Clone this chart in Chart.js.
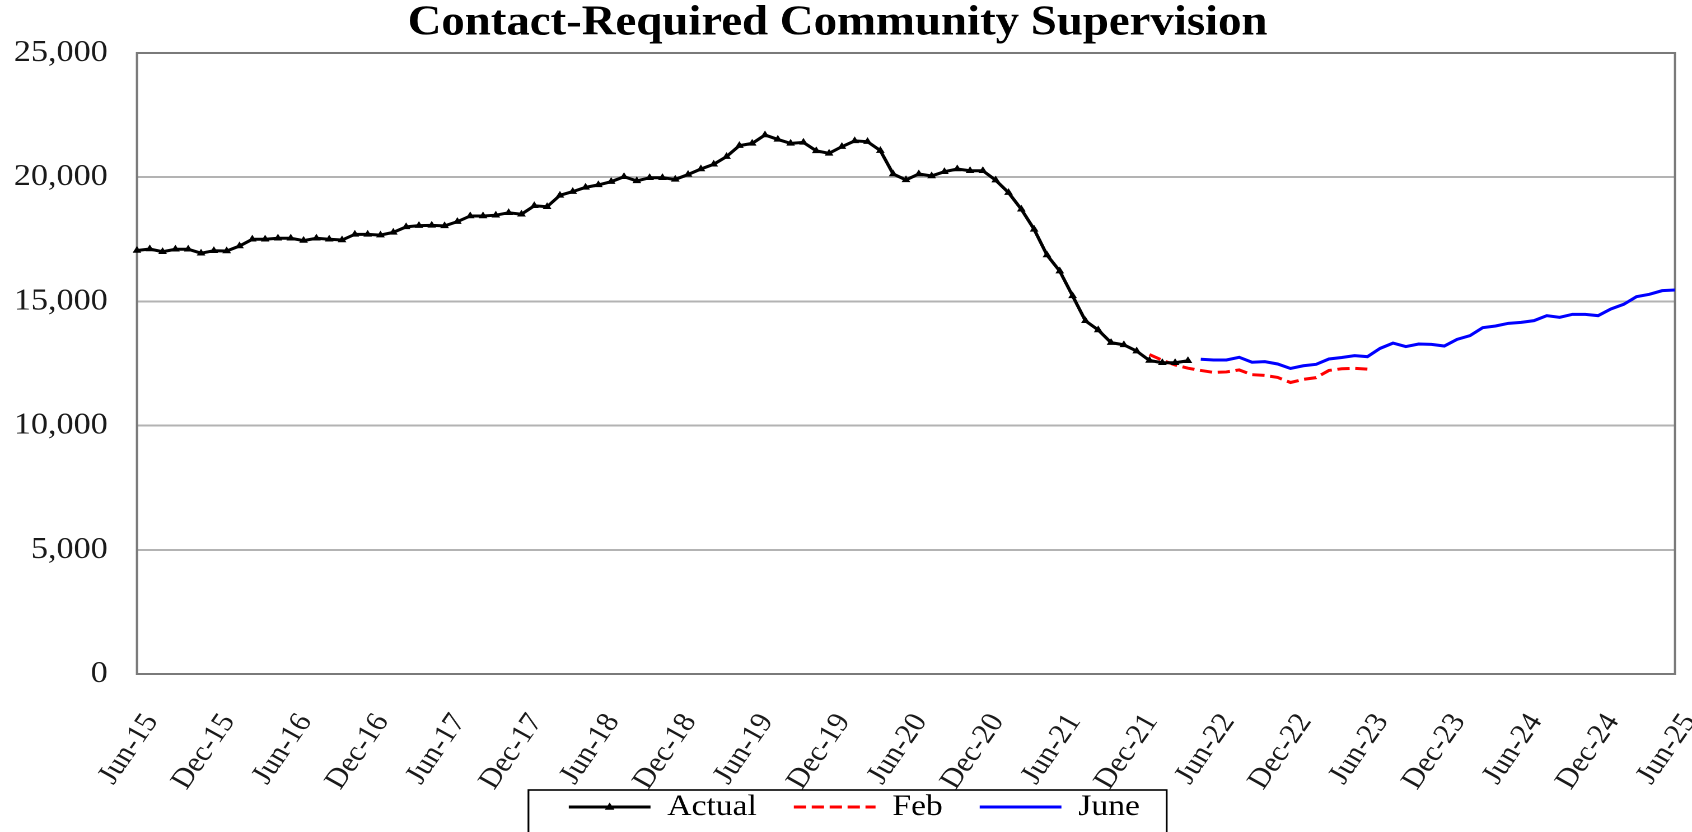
<!DOCTYPE html>
<html>
<head>
<meta charset="utf-8">
<script src="https://cdn.jsdelivr.net/npm/chart.js@4.4.1/dist/chart.umd.min.js"></script>
<style>
  html, body { margin: 0; padding: 0; background: #ffffff; overflow: hidden; }
  #c { display: block; width: 1692px; height: 832px; }
</style>
</head>
<body>
<canvas id="c" width="1511" height="832" style="width:1692px;height:832px;display:block"></canvas>
<script>
// ---------- DATA ----------
const monthNames = ['Jan','Feb','Mar','Apr','May','Jun','Jul','Aug','Sep','Oct','Nov','Dec'];
const categories = [];
for (let i = 0; i < 121; i++) {
  const m = (5 + i) % 12;
  const y = 15 + Math.floor((5 + i) / 12);
  categories.push(monthNames[m] + '-' + y);
}

const xTickLabels = ['Jun-15','Dec-15','Jun-16','Dec-16','Jun-17','Dec-17','Jun-18','Dec-18',
  'Jun-19','Dec-19','Jun-20','Dec-20','Jun-21','Dec-21','Jun-22','Dec-22','Jun-23','Dec-23',
  'Jun-24','Dec-24','Jun-25'];

const yTickValues = [0, 5000, 10000, 15000, 20000, 25000];

// Actual: Jun-15 .. Apr-22
const actualStart = 'Jun-15';
const actualValues = [
  17050, 17110, 17000, 17100, 17100, 16940, 17040, 17030, 17230, 17500,
  17500, 17540, 17540, 17450, 17540, 17500, 17470, 17700, 17700, 17670,
  17780, 18000, 18050, 18060, 18040, 18210, 18440, 18440, 18470, 18570,
  18510, 18850, 18810, 19270, 19420, 19590, 19690, 19820, 20020, 19850,
  19980, 19980, 19910, 20110, 20330, 20520, 20830, 21270, 21360, 21700,
  21520, 21360, 21400, 21060, 20960, 21230, 21460, 21430, 21070, 20130,
  19890, 20130, 20050, 20220, 20330, 20260, 20260, 19880, 19380, 18710,
  17900, 16870, 16220, 15220, 14220, 13850, 13340, 13250, 13000, 12620,
  12530, 12530, 12610
];

// Feb forecast: Jan-22 .. Jun-23
const febStart = 'Jan-22';
const febValues = [
  12860, 12630, 12440, 12310, 12220, 12140, 12160, 12240, 12050, 12020,
  11940, 11735, 11860, 11930, 12220, 12290, 12306, 12275
];

// June forecast: May-22 .. Jun-25
const juneStart = 'May-22';
const juneValues = [
  12670, 12640, 12640, 12750, 12550, 12575, 12480, 12300, 12410, 12467,
  12681, 12740, 12815, 12775, 13110, 13320, 13180, 13285, 13270, 13204,
  13473, 13620, 13943, 14010, 14117, 14157, 14224, 14425, 14358, 14479,
  14479, 14425, 14694, 14882, 15191, 15285, 15432, 15459
];

function placeSeries(startLabel, values) {
  const out = new Array(categories.length).fill(null);
  const s = categories.indexOf(startLabel);
  values.forEach((v, i) => { out[s + i] = v; });
  return out;
}

// ---------- STYLE ----------
const SERIF = "'Liberation Serif', 'Times New Roman', serif";
const legendSampleOffset = 30;   // blank space before each legend sample
const legendSampleLen = 73;

const seriesStyles = [
  { type: 'actual', color: '#000000', dash: [], width: 3 },
  { type: 'feb', color: '#ff0000', dash: [11, 5], width: 3 },
  { type: 'june', color: '#0000ff', dash: [], width: 3 }
];

const framePlugin = {
  id: 'frame',
  beforeDatasetsDraw(chart) {
    const { left, top, right, bottom } = chart.chartArea;
    const ctx = chart.ctx;
    ctx.save();
    ctx.strokeStyle = '#7a7a7a';
    ctx.lineWidth = 2;
    ctx.strokeRect(left, top, right - left, bottom - top);
    ctx.restore();
  },
  afterDraw(chart) {
    const lg = chart.legend;
    if (!lg || !lg.legendHitBoxes || !lg.legendHitBoxes.length) return;
    const ctx = chart.ctx;
    const hbs = lg.legendHitBoxes;
    ctx.save();
    hbs.forEach((hb, i) => {
      const st = seriesStyles[i];
      const cy = hb.top + hb.height / 2;
      const x0 = hb.left + legendSampleOffset;
      const x1 = x0 + legendSampleLen;
      ctx.beginPath();
      ctx.setLineDash(st.dash);
      ctx.lineWidth = st.width;
      ctx.strokeStyle = st.color;
      ctx.moveTo(x0, cy);
      ctx.lineTo(x1, cy);
      ctx.stroke();
      ctx.setLineDash([]);
      if (st.type === 'actual') {
        const cx = (x0 + x1) / 2, r = 4.5;
        ctx.beginPath();
        ctx.fillStyle = '#000';
        ctx.moveTo(cx, cy - r);
        ctx.lineTo(cx + r * 0.95, cy + r * 0.6);
        ctx.lineTo(cx - r * 0.95, cy + r * 0.6);
        ctx.closePath();
        ctx.fill();
      }
    });
    // legend frame
    const first = hbs[0], last = hbs[hbs.length - 1];
    const bx0 = first.left + legendSampleOffset - 36;
    const bx1 = last.left + last.width + 24;
    const by0 = lg.top + 1;
    ctx.strokeStyle = '#000';
    ctx.lineWidth = 1.6;
    ctx.strokeRect(bx0, by0, bx1 - bx0, chart.height + 20 - by0);
    ctx.restore();
  }
};

const ctx = document.getElementById('c').getContext('2d');
new Chart(ctx, {
  type: 'line',
  data: {
    labels: categories,
    datasets: [
      {
        label: 'Actual',
        data: placeSeries(actualStart, actualValues),
        borderColor: '#000000',
        backgroundColor: '#000000',
        borderWidth: 3,
        pointStyle: 'triangle',
        pointRadius: 4.5,
        pointBorderWidth: 0,
        pointBackgroundColor: '#000000',
        tension: 0,
        spanGaps: false
      },
      {
        label: 'Feb',
        data: placeSeries(febStart, febValues),
        borderColor: '#ff0000',
        borderWidth: 3,
        borderDash: [11, 5],
        pointRadius: 0,
        tension: 0,
        spanGaps: false
      },
      {
        label: 'June',
        data: placeSeries(juneStart, juneValues),
        borderColor: '#0000ff',
        borderWidth: 3,
        pointRadius: 0,
        tension: 0,
        spanGaps: false
      }
    ]
  },
  options: {
    responsive: false,
    devicePixelRatio: 2,
    animation: false,
    events: [],
    layout: { padding: { left: 0, right: 15.2, top: 0, bottom: 0 } },
    plugins: {
      title: {
        display: true,
        text: 'Contact-Required Community Supervision',
        color: '#000000',
        font: { family: SERIF, size: 41.8, weight: 'bold', lineHeight: 1.05 },
        padding: { top: 2, bottom: 7.1 }
      },
      legend: {
        display: true,
        position: 'bottom',
        align: 'center',
        labels: {
          boxWidth: legendSampleOffset + legendSampleLen,
          boxHeight: 30,
          padding: 3,
          color: '#000000',
          font: { family: SERIF, size: 30, lineHeight: 1.2 },
          generateLabels(chart) {
            return chart.data.datasets.map((ds, i) => ({
              text: ds.label,
              fillStyle: 'rgba(0,0,0,0)',
              strokeStyle: 'rgba(0,0,0,0)',
              lineWidth: 0,
              hidden: false,
              datasetIndex: i
            }));
          }
        }
      },
      tooltip: { enabled: false }
    },
    scales: {
      x: {
        type: 'category',
        offset: false,
        grid: { display: false, drawTicks: false },
        border: { display: false },
        ticks: {
          autoSkip: false,
          minRotation: 58,
          maxRotation: 58,
          padding: 34,
          labelOffset: 13,
          color: '#1a1a1a',
          font: { family: SERIF, size: 28 },
          callback(value, index) {
            const lab = categories[index];
            return xTickLabels.includes(lab) ? lab : '';
          }
        },
        afterFit(scale) {
          scale.height = 115;
          scale.paddingLeft = 0;
          scale.paddingRight = 0;
          // let the rotated labels run past the axis box instead of being clipped
          scale._computeLabelArea = () => undefined;
        }
      },
      y: {
        min: 0,
        max: 25000,
        grid: { color: '#b3b3b3', lineWidth: 2, drawTicks: false },
        border: { display: false },
        ticks: {
          stepSize: 5000,
          padding: 26,
          color: '#1a1a1a',
          font: { family: SERIF, size: 30.5 },
          callback(value) {
            return yTickValues.includes(value) ? value.toLocaleString('en-US') : '';
          }
        },
        afterFit(scale) {
          scale.width = 122.3;
          scale.paddingTop = 0;
          scale.paddingBottom = 0;
        }
      }
    }
  },
  plugins: [framePlugin]
});
</script>
</body>
</html>
